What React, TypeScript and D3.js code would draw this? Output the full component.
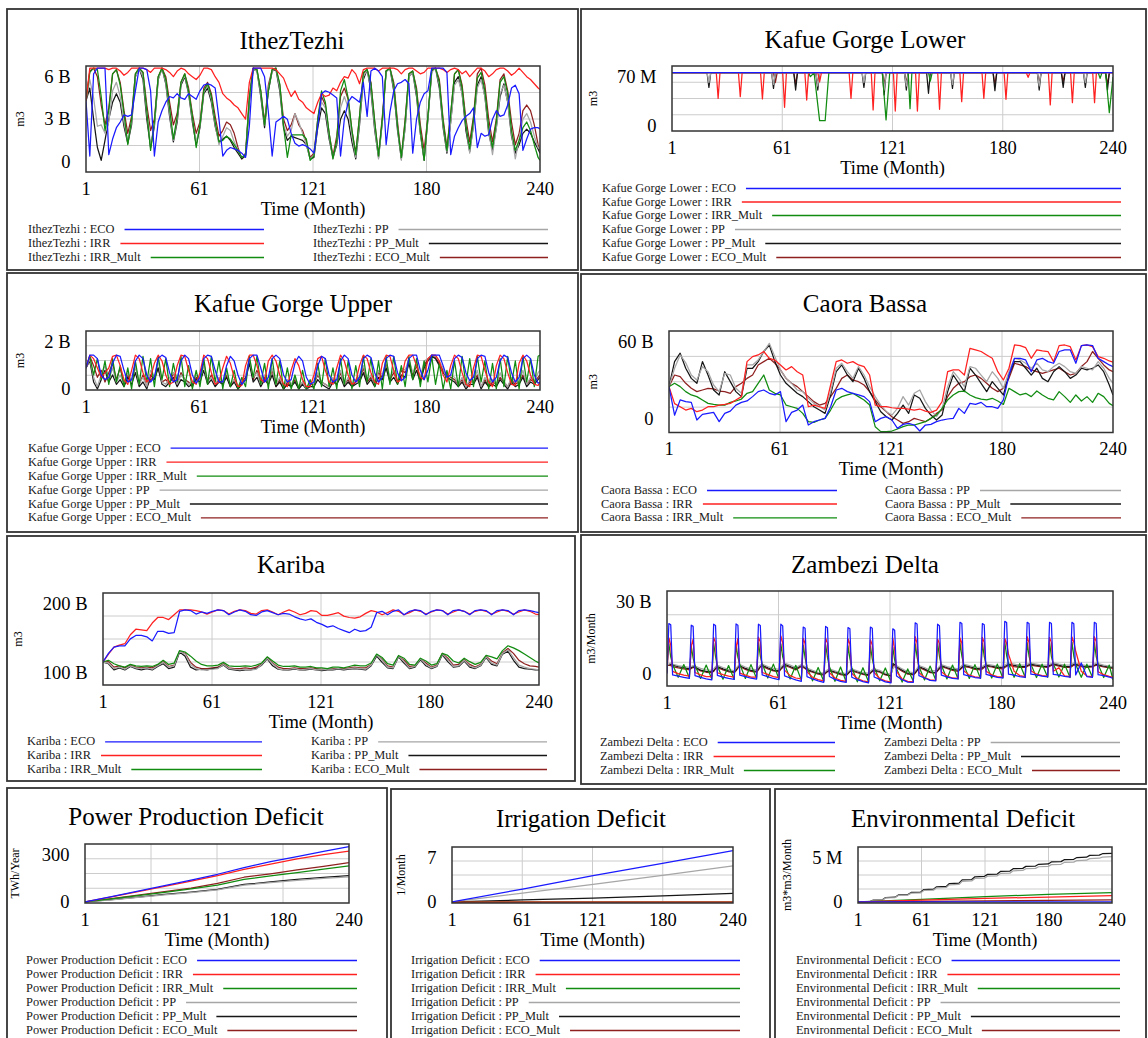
import React, { useEffect, useRef } from "react";
import * as d3 from "d3";

const W = 1148;
const H = 1038;
const FONT = "'Liberation Serif', 'Times New Roman', Times, serif";

const SERIES_KEYS = ["ECO", "IRR", "IRR_Mult", "PP", "PP_Mult", "ECO_Mult"];
const SERIES_COLORS = ["#1a1aff", "#ff2020", "#118c11", "#a6a6a6", "#161616", "#8f2020"];

const X_TICK_VALUES = [1, 60.75, 120.5, 180.25, 240];
const X_TICK_LABELS = ["1", "61", "121", "180", "240"];

// sample months
const MONTHS_2 = [...d3.range(1, 240, 2), 240];
const MONTHS_3 = [...d3.range(1, 240, 3), 240];
const MONTHS_Z = [...d3.range(20).flatMap((k) => [1, 2, 3, 4, 7, 10].map((o) => 12 * k + o)), 240];
const MONTHS_DEF = [1, 25, 49, 73, 97, 121, 145, 169, 193, 217, 240];
const MONTHS_LIN = [1, 61, 121, 180, 240];
const MONTHS_STEP = [1, 12, 15, 24, 27, 36, 39, 48, 51, 60, 63, 72, 75, 84, 87, 96, 99, 108, 111, 120, 123, 132, 135, 144, 147, 156, 159, 168, 171, 180, 183, 192, 195, 204, 207, 216, 219, 228, 231, 240];

// ---------- IthezTezhi (B m3), months 1,3,...,239,240
const ITH_ECO = [4.3,0.4,6.2,6.6,6.6,6.6, 0.5,1.6,2.4,2.8,3.3,3.2, 3.3,5.0,6.6,6.6,6.5,5.0, 0.4,2.8,3.6,4.2,4.6,4.5, 4.8,4.5,4.4,4.8,4.6,4.4, 5.0,5.4,5.5,5.4,5.2,3.0, 0.4,0.8,1.0,0.9,0.8,0.6, 0.3,2.5,6.6,6.6,6.6,6.0, 3.5,0.4,2.8,3.0,3.2,3.0, 2.0,1.3,1.1,1.2,1.1,0.9, 0.6,2.5,4.8,5.0,4.9,4.7, 4.5,0.4,3.0,4.2,4.6,4.4, 4.2,5.6,3.2,6.4,6.6,6.4, 6.0,1.2,3.5,5.0,5.5,5.6, 5.8,5.5,0.6,3.0,4.2,4.8, 5.0,6.6,6.6,6.6,6.6,6.3, 0.5,1.8,2.4,2.9,3.2,3.4, 3.8,1.0,2.0,1.8,1.9,3.0, 3.6,3.2,3.3,4.0,5.2,5.4, 4.8,0.8,1.6,2.3,2.4,2.4, 2.3];
const ITH_IRR = [4.3,6.6,6.6,6.6,6.6,6.6, 6.5,6.6,6.6,6.4,6.1,6.3, 6.6,6.6,6.6,6.6,6.5,6.3, 6.6,6.6,6.6,6.5,6.3,6.0, 6.4,6.6,6.5,6.2,6.0,5.8, 6.1,6.6,6.6,6.5,6.0,5.6, 4.8,4.5,4.3,4.0,3.8,3.4, 3.0,5.6,6.6,6.6,6.6,6.6, 6.6,6.6,6.5,6.2,5.9,5.2, 4.6,5.0,4.4,4.2,3.8,3.6, 3.4,4.2,4.8,4.6,4.7,5.2, 5.0,5.6,6.0,5.9,6.5,6.2, 5.5,6.5,6.6,6.6,6.6,6.4, 6.6,6.6,6.6,6.6,6.5,6.2, 6.5,6.6,6.6,6.4,6.2,6.3, 6.6,6.6,6.6,6.6,6.5,6.3, 6.5,6.6,6.5,6.2,6.4,6.0, 6.3,6.6,6.6,6.4,6.0,6.2, 6.5,6.6,6.6,6.4,6.1,6.3, 6.6,6.3,6.0,5.8,5.5,5.2, 5.1];
const ITH_IRRM = [4.3,6.3,6.6,6.5,4.6,2.2, 3.6,6.2,6.5,5.4,3.4,1.2, 3.0,6.2,6.6,6.3,3.6,0.8, 2.8,6.0,6.6,5.8,3.8,1.6, 3.2,5.6,6.2,5.0,3.2,1.0, 2.6,5.0,5.5,4.6,2.8,1.4, 1.5,1.8,1.6,1.2,0.8,0.3, 0.5,4.5,6.6,6.5,5.0,2.6, 5.0,6.5,6.6,5.5,2.5,0.3, 1.9,1.9,1.9,1.9,1.6,0.1, 0.4,3.0,5.0,4.2,2.0,0.2, 1.5,5.0,5.8,4.5,2.2,0.5, 3.2,6.3,6.5,5.5,2.8,0.4, 3.0,6.4,6.6,5.4,2.5,0.3, 2.8,6.2,6.4,5.0,2.2,0.1, 3.2,6.5,6.6,5.6,2.8,0.8, 3.4,6.2,6.5,5.2,2.6,0.9, 3.0,5.9,6.3,5.0,2.4,1.0, 2.8,5.6,6.0,4.8,2.2,0.8, 1.5,2.4,2.8,2.2,1.2,0.3, 0.1];
const ITH_PP = [4.3,5.8,4.5,2.5,2.6,2.0, 2.8,5.0,5.6,4.6,2.8,1.4, 2.8,6.0,6.6,6.0,3.4,1.2, 2.6,5.8,6.6,5.6,3.4,1.5, 3.0,5.5,6.1,4.9,3.0,1.4, 2.5,4.9,5.4,4.4,2.6,1.2, 1.8,2.4,2.2,1.4,0.8,0.3, 0.5,4.3,6.5,6.4,4.8,2.6, 5.2,6.4,6.6,5.2,2.6,1.8, 2.2,3.4,2.8,2.0,1.2,0.2, 0.4,2.8,4.2,3.8,1.8,0.2, 1.4,3.8,4.6,3.8,1.8,0.3, 2.8,6.0,6.5,5.2,2.4,0.2, 2.8,6.3,6.6,5.2,2.4,0.1, 2.4,6.0,6.3,4.8,2.0,0.2, 3.0,6.3,6.6,5.4,2.6,0.7, 2.8,5.4,5.8,4.8,2.6,0.6, 2.6,5.2,5.8,4.6,2.2,0.5, 2.4,4.8,5.4,4.2,2.0,0.2, 1.6,3.0,3.4,2.8,1.8,1.0, 0.9];
const ITH_PPM = [4.3,5.2,3.0,1.0,0.1,1.5, 3.0,4.2,4.8,4.2,2.5,1.3, 2.6,6.0,6.6,5.8,3.0,1.0, 2.5,5.8,6.6,5.5,3.2,1.4, 2.8,5.4,6.0,4.8,2.8,1.2, 2.4,4.8,5.2,4.2,2.5,1.4, 1.6,1.8,1.5,1.0,0.6,0.2, 0.4,4.2,6.5,6.4,4.6,2.4, 5.0,6.4,6.5,5.0,2.4,1.5, 1.8,1.7,1.6,1.5,1.2,0.2, 0.3,2.4,3.8,3.4,1.6,0.3, 1.2,3.0,3.6,3.0,1.4,0.2, 2.6,5.8,6.5,5.0,2.2,0.3, 2.8,6.4,6.6,5.0,2.2,0.2, 2.4,6.0,6.3,4.6,2.0,0.1, 3.0,6.4,6.6,5.2,2.4,0.6, 2.8,5.6,6.0,4.8,2.2,0.7, 2.6,5.4,6.0,4.6,2.0,0.8, 2.4,4.6,5.5,4.2,1.8,0.6, 1.2,2.0,2.3,2.0,1.4,0.9, 0.6];
const ITH_ECOM = [4.3,6.4,6.6,6.0,4.0,2.6, 3.8,6.2,6.5,5.6,3.6,2.0, 3.2,6.2,6.6,6.3,4.0,2.2, 3.0,6.0,6.6,6.0,4.2,2.6, 3.4,5.6,6.2,5.2,3.4,2.0, 2.8,5.2,5.6,4.8,3.2,1.8, 2.2,2.8,2.6,2.0,1.0,0.2, 0.6,4.6,6.6,6.5,5.0,2.8, 5.4,6.5,6.6,5.4,3.0,2.2, 2.6,3.4,2.6,2.2,1.4,0.3, 0.6,3.0,4.6,4.0,2.0,0.4, 1.8,4.6,5.2,4.4,2.2,0.6, 3.2,6.2,6.5,5.6,2.8,0.4, 3.2,6.4,6.6,5.6,2.8,0.3, 3.0,6.2,6.4,5.2,2.6,0.8, 3.2,6.5,6.6,5.8,3.0,1.0, 3.4,6.2,6.5,5.4,3.0,1.4, 3.2,6.2,6.6,5.4,3.0,1.4, 3.0,5.8,6.2,5.0,2.8,1.2, 2.0,3.6,4.0,3.6,2.6,1.2, 0.8];

// ---------- Kafue Gorge Lower (M m3), [month, value] points
const KGL_ECO = [[1, 76.1], [240, 76.1]];
const KGL_IRR = [[1,76.1],[25,76.1],[26,39.5],[27,76.1],[37,76.1],[38,41.9],[39,76.1],[49,76.1],[50,38.6],[51,76.1],[61,76.1],[62,26.7],[63,76.1],[73,76.1],[74,37.1],[75,76.1],[80,76.1],[81,63],[82,76.1],[97,76.1],[98,39.5],[99,76.1],[109,76.1],[110,22.9],[111,76.1],[121,76.1],[122,21.4],[123,76.1],[133,76.1],[134,21.4],[135,76.1],[145,76.1],[146,23.8],[147,76.1],[157,76.1],[158,34.8],[159,76.1],[169,76.1],[170,39.5],[171,76.1],[181,76.1],[182,38.1],[183,76.1],[193,76.1],[194,69.5],[195,76.1],[205,76.1],[206,30],[207,76.1],[217,76.1],[218,33.3],[219,76.1],[229,76.1],[230,33.3],[231,76.1],[240,76.1]];
const KGL_IRRM = [[1,76.1],[75,76.1],[76,70.5],[78,76.1],[81,7.6],[84,7.6],[86,76.1],[115,76.1],[117,8.6],[119,76.1],[129,76.1],[130,24.8],[131,76.1],[140,76.1],[141,64],[142,76.1],[232,76.1],[233,68],[234,76.1],[236,76.1],[238,19],[240,70]];
const KGL_PP = [[1,76.1],[20,76.1],[21,61.9],[22,76.1],[55,76.1],[56,59.5],[57,76.1],[79,76.1],[80,57.1],[81,76.1],[104,76.1],[105,61.9],[106,76.1],[115,76.1],[116,51.4],[117,76.1],[127,76.1],[128,57.1],[129,76.1],[152,76.1],[153,59.5],[154,76.1],[199,76.1],[200,57.1],[201,76.1],[224,76.1],[225,61.9],[226,76.1],[240,76.1]];
const KGL_PPM = [[1,76.1],[20,76.1],[21,55.2],[22,76.1],[55,76.1],[56,53.8],[57,76.1],[67,76.1],[68,51.4],[69,76.1],[79,76.1],[80,51.4],[81,76.1],[104,76.1],[105,55.2],[106,76.1],[115,76.1],[116,44.3],[117,76.1],[127,76.1],[128,51.4],[129,76.1],[139,76.1],[140,46.7],[141,76.1],[152,76.1],[153,53.8],[154,76.1],[175,76.1],[176,50.5],[177,76.1],[199,76.1],[200,51.4],[201,76.1],[212,76.1],[213,55.2],[214,76.1],[224,76.1],[225,55.2],[226,76.1],[236,76.1],[237,51.4],[238,76.1],[240,76.1]];
const KGL_ECOM = [[1,76.1],[56,76.1],[57,61.9],[58,76.1],[67,76.1],[68,59.5],[69,76.1],[79,76.1],[80,57.1],[81,76.1],[115,76.1],[116,59.5],[117,76.1],[127,76.1],[128,61.9],[129,76.1],[175,76.1],[176,59.5],[177,76.1],[199,76.1],[200,59.5],[201,76.1],[212,76.1],[213,63.3],[214,76.1],[236,76.1],[237,59.5],[238,76.1],[240,76.1]];

// ---------- Kafue Gorge Upper (B m3), months 1,3,...,239,240
const KGU_ECO = [0.9,1.45,1.45,1.3,0.6,0.4, 0.5,1.1,1.45,1.4,0.8,0.3, 0.4,1.2,1.45,1.3,0.6,0.3, 0.5,1.3,1.45,1.35,0.7,0.3, 0.4,1.2,1.45,1.3,0.6,0.25, 0.5,1.3,1.45,1.4,0.8,0.3, 0.3,1.0,1.4,1.2,0.6,0.2, 0.4,1.3,1.45,1.45,0.9,0.3, 0.5,1.3,1.45,1.3,0.6,0.3, 0.4,1.1,1.4,1.2,0.5,0.2, 0.3,1.0,1.4,1.3,0.6,0.3, 0.4,1.2,1.45,1.3,0.6,0.3, 0.5,1.3,1.45,1.35,0.7,0.3, 0.5,1.3,1.45,1.4,0.7,0.35, 0.5,1.3,1.45,1.45,0.8,0.4, 0.8,1.45,1.45,1.45,1.0,0.5, 0.6,1.3,1.45,1.35,0.7,0.35, 0.5,1.3,1.45,1.4,0.7,0.3, 0.5,1.2,1.45,1.35,0.7,0.3, 0.5,1.3,1.45,1.3,0.6,0.25, 0.3];
const KGU_IRR = [0.9,1.45,1.3,0.9,0.5,0.7, 0.9,1.4,1.45,1.0,0.4,0.2, 0.8,1.45,1.3,0.7,0.3,0.5, 1.1,1.45,1.2,0.6,0.2,0.3, 1.0,1.45,1.4,0.8,0.3,0.2, 0.7,1.45,1.3,0.7,0.2,0.3, 0.9,1.4,1.1,0.5,0.1,0.15, 1.0,1.45,1.45,1.0,0.4,0.3, 1.2,1.45,1.2,0.6,0.2,0.1, 0.8,1.3,1.0,0.4,0.1,0.1, 0.6,1.3,1.4,0.8,0.3,0.2, 0.9,1.45,1.2,0.6,0.2,0.3, 1.0,1.45,1.3,0.7,0.3,0.2, 1.1,1.45,1.4,0.8,0.3,0.4, 1.2,1.45,1.45,1.0,0.5,0.4, 1.3,1.45,1.45,1.2,0.6,0.3, 1.0,1.45,1.3,0.7,0.2,0.1, 0.9,1.45,1.4,0.8,0.3,0.1, 1.0,1.45,1.3,0.7,0.2,0.15, 1.1,1.45,1.2,0.6,0.2,0.15, 0.3];
const KGU_IRRM = [0.9,1.4,0.6,1.3,0.4,1.2, 0.2,1.3,0.3,1.0,0.1,0.9, 0.0,1.2,0.2,1.4,0.3,1.3, 0.1,1.4,0.4,1.3,0.1,1.1, 0.3,1.4,0.1,1.0,0.0,0.8, 0.1,1.3,0.2,1.4,0.3,1.2, 0.0,0.9,0.1,0.8,0.0,0.5, 0.1,1.4,0.5,1.4,0.2,1.1, 0.0,1.3,0.2,1.2,0.0,0.9, 0.0,0.6,0.0,0.8,0.0,0.4, 0.0,1.1,0.1,1.3,0.1,0.9, 0.0,1.3,0.2,1.2,0.0,1.0, 0.1,1.4,0.3,1.3,0.1,1.2, 0.0,1.4,0.2,1.4,0.2,1.0, 0.1,1.4,0.4,1.3,0.1,1.2, 0.3,1.4,0.2,1.1,0.0,0.8, 0.0,1.2,0.1,1.4,0.2,1.3, 0.1,1.4,0.3,1.2,0.0,1.1, 0.0,1.3,0.1,1.4,0.2,1.2, 0.0,1.4,0.3,1.3,0.1,1.4, 1.45];
const KGU_PP = [0.9,1.3,0.5,0.1,0.6,1.0, 0.4,0.9,0.3,0.6,0.2,0.7, 0.3,1.0,0.2,0.5,0.1,0.8, 0.5,1.2,0.3,0.2,0.5,0.7, 0.2,0.6,0.4,0.2,0.3,0.6, 0.4,1.0,0.3,0.5,0.2,0.5, 0.3,0.7,0.2,0.4,0.1,0.4, 0.6,1.3,0.5,0.7,0.2,0.6, 0.3,0.9,0.2,0.5,0.1,0.4, 0.2,0.5,0.1,0.3,0.0,0.3, 0.2,0.7,0.3,0.2,0.1,0.5, 0.3,0.8,0.2,0.5,0.2,0.4, 0.5,1.0,0.4,0.6,0.2,0.8, 0.6,1.2,0.5,0.8,0.3,0.9, 0.8,1.3,0.7,1.1,0.5,1.2, 1.3,1.45,1.4,1.2,0.9,0.4, 0.6,0.5,0.2,0.5,0.1,0.4, 0.3,0.8,0.1,0.5,0.2,0.4, 0.2,0.7,0.3,0.1,0.5,0.3, 0.3,0.8,0.2,0.5,0.3,0.7, 0.8];
const KGU_PPM = [0.9,1.2,0.3,0.0,0.4,0.8, 0.3,0.6,0.2,0.4,0.1,0.5, 0.2,0.7,0.1,0.3,0.0,0.6, 0.4,0.9,0.2,0.1,0.3,0.5, 0.1,0.4,0.3,0.1,0.2,0.4, 0.3,0.8,0.2,0.4,0.1,0.3, 0.2,0.5,0.1,0.3,0.0,0.2, 0.4,1.1,0.3,0.5,0.1,0.4, 0.2,0.6,0.1,0.3,0.0,0.2, 0.1,0.3,0.0,0.2,0.0,0.1, 0.1,0.4,0.2,0.1,0.0,0.3, 0.2,0.5,0.1,0.3,0.1,0.2, 0.3,0.7,0.2,0.4,0.1,0.5, 0.4,0.9,0.3,0.5,0.2,0.6, 0.5,1.1,0.4,0.8,0.3,0.9, 1.2,1.4,1.3,1.0,0.7,0.5, 0.4,0.3,0.1,0.3,0.0,0.2, 0.2,0.5,0.0,0.3,0.1,0.2, 0.1,0.4,0.2,0.0,0.3,0.1, 0.2,0.5,0.1,0.3,0.2,0.4, 0.5];
const KGU_ECOM = [0.9,1.4,1.0,0.5,0.8,0.3, 0.7,1.1,0.4,0.9,0.2,0.6, 0.3,1.0,0.2,0.6,0.1,0.4, 0.5,0.9,0.3,0.4,0.2,0.7, 0.2,0.7,0.4,0.3,0.1,0.5, 0.4,1.1,0.3,0.6,0.2,0.4, 0.2,0.6,0.1,0.4,0.0,0.3, 0.5,1.2,0.4,0.8,0.2,0.5, 0.3,0.8,0.1,0.4,0.0,0.3, 0.1,0.4,0.0,0.3,0.0,0.2, 0.2,0.6,0.3,0.2,0.1,0.4, 0.2,0.7,0.2,0.4,0.1,0.3, 0.4,0.9,0.3,0.5,0.2,0.7, 0.5,1.1,0.4,0.7,0.3,0.8, 0.7,1.2,0.6,1.0,0.4,1.0, 1.3,1.45,1.35,1.1,0.8,0.6, 0.5,0.4,0.2,0.4,0.1,0.3, 0.3,0.6,0.1,0.4,0.1,0.3, 0.2,0.5,0.3,0.1,0.4,0.2, 0.3,0.6,0.2,0.4,0.3,0.5, 0.6];

// ---------- Caora Bassa (B m3), months 1,4,...,238,240
const CB_ECO = [25.3,3.0,14.9,13.6,13.0,-0.8,3.6,4.4,5.2,-2.1, 4.4,6.2,10.9,13.0,14.1,17.5,21.4,22.7,20.1,18.8, 21.4,-2.1,5.2,7.0,10.9,-4.7,-2.1,-0.8,0.5,9.6, 22.7,24.0,21.4,20.1,18.8,17.5,13.6,-2.1,0.5,1.8, -0.8,-7.3,-4.2,-3.4,-4.7,-9.4,-4.7,-4.2,-2.1,-0.8, 0.0,0.5,8.3,4.4,12.2,11.4,13.0,9.6,9.6,8.3, 14.9,34.4,47.5,47.5,46.2,37.0,46.2,47.5,44.9,43.6, 52.8,54.0,54.0,43.6,57.4,57.9,57.4,47.5,44.9,42.3, 41.0];
const CB_IRR = [25.3,12.0,9.6,7.0,8.3,5.7,7.0,9.6,9.6,10.9, 11.4,12.2,14.9,17.5,44.9,48.8,50.1,52.8,47.5,46.0, 42.3,38.4,41.0,37.0,34.4,9.6,10.9,9.6,8.3,26.6, 44.9,46.2,43.6,44.9,42.3,41.0,34.4,10.9,9.6,9.6, 8.8,8.3,8.3,7.8,7.0,7.8,6.2,5.2,7.0,13.6, 37.0,38.4,38.4,34.4,55.3,54.0,52.8,50.1,47.5,37.0, 30.5,39.7,57.9,57.4,55.8,47.5,54.0,53.3,52.8,44.9, 57.4,57.9,56.6,46.2,57.4,57.9,56.6,48.8,47.5,45.4, 44.4];
const CB_IRRM = [25.3,27.9,25.3,21.4,18.8,17.5,14.9,12.2,11.4,10.9, 10.9,13.0,14.1,15.6,20.1,21.4,27.9,34.4,22.7,20.1, 18.8,10.9,9.6,8.3,4.4,-2.1,-2.6,-0.8,0.5,7.0, 14.9,17.5,18.8,20.1,17.5,14.9,10.9,-6.0,-9.9,-9.9, -9.4,-7.8,-6.0,-4.7,-4.7,-3.4,-2.1,0.5,3.1,8.3, 14.9,18.8,21.4,21.9,18.8,16.7,15.6,14.9,16.2,14.1, 11.4,24.0,21.4,18.8,20.1,17.5,21.9,18.8,16.2,14.9, 21.4,17.5,13.0,18.8,14.1,17.5,13.0,20.1,17.5,12.2, 10.4];
const CB_PP = [25.3,39.7,50.1,44.0,34.4,30.5,41.0,37.0,26.6,21.4, 35.7,34.4,24.0,20.1,42.3,42.3,46.2,52.8,59.2,48.8, 38.4,31.8,27.9,22.7,21.4,16.2,12.2,9.6,7.0,21.4, 39.7,43.6,37.0,31.8,41.0,34.4,25.3,17.5,10.9,5.7, 3.1,8.3,17.5,10.9,20.1,22.7,13.6,7.0,1.8,8.3, 25.3,37.0,31.8,25.3,41.0,39.7,34.4,29.2,37.0,31.8, 24.0,37.0,47.5,46.2,43.6,39.7,43.6,38.4,37.0,41.0, 43.6,41.0,37.0,35.7,41.0,39.7,38.4,44.9,39.7,31.8, 27.9];
const CB_PPM = [25.3,44.9,51.5,39.7,31.8,27.9,44.9,34.4,22.7,18.8, 37.0,29.2,21.4,17.5,39.7,39.7,44.9,52.8,57.9,44.9, 34.4,27.9,24.0,20.1,17.5,13.6,9.6,7.0,4.4,18.8, 37.0,42.3,34.4,29.2,39.7,31.8,21.4,13.6,5.7,1.8, -0.8,4.4,10.9,4.4,18.8,16.2,8.3,3.1,-0.8,3.1, 21.4,34.4,27.9,21.4,39.7,34.4,27.9,21.4,29.2,24.0, 18.8,34.4,44.9,44.9,39.7,34.4,39.7,31.8,29.2,37.0, 41.0,37.0,31.8,34.4,39.7,38.4,39.7,42.3,37.0,26.6, 18.8];
const CB_ECOM = [25.3,34.4,33.1,27.9,24.0,21.4,22.7,24.0,23.5,21.9, 21.4,20.1,25.3,27.9,31.8,34.4,42.3,44.9,47.5,43.6, 38.4,31.8,27.9,25.3,21.4,17.5,13.6,10.9,12.2,17.5, 24.0,31.8,34.4,30.5,29.2,26.6,21.4,14.9,9.6,5.7, 1.8,-0.8,-3.4,-2.1,0.5,-0.8,-2.1,0.5,4.4,7.0, 17.5,24.0,27.9,29.2,33.1,34.4,31.8,27.9,24.0,21.4, 24.0,31.8,43.6,42.3,41.0,38.4,37.0,35.7,37.0,38.4, 39.7,37.0,34.4,35.7,41.0,44.9,52.8,47.5,42.3,38.4, 37.0];

// ---------- Kariba (B m3), months 1,4,...,238,240
const KA_ECO = [115.5,128,137,139,139,149,154,154,152,146, 160,160,157,158,189,191,190,185,188,186, 189,191,190,184,188,191,189,184,183,188, 190,187,184,186,185,181,178,176,178,173, 170,166,168,164,161,158,163,160,161,166, 187,189,184,189,191,184,189,191,190,184, 189,191,190,184,190,191,189,184,190,191, 190,184,190,191,190,184,190,191,190,188, 187];
const KA_IRR = [115.5,127,137,140,142,155,163,162,161,172, 180,180,177,184,191,191,191,190,188,185, 188,191,190,185,189,191,190,186,185,190, 191,188,184,188,191,188,184,186,190,189, 183,183,185,187,182,180,179,181,186,190, 188,184,187,191,189,184,187,191,189,185, 188,191,190,185,188,191,189,185,189,191, 189,185,188,191,189,185,188,191,189,185, 184];
const KA_IRRM = [115.5,118,113,110,108,112,110,109,110,109, 112,118,112,114,132,130,124,117,112,110, 110,111,115,110,109,109,110,109,111,114, 123,117,111,109,109,110,108,108,109,107, 107,106,108,108,107,109,111,110,110,114, 127,122,113,111,125,121,112,111,121,117, 111,113,128,125,117,114,121,116,112,115, 125,123,120,132,139,136,132,127,122,117, 114];
const KA_PP = [115.5,114,106,108,105,110,107,106,107,105, 110,115,108,110,131,127,112,106,104,104, 105,106,112,106,105,104,105,104,105,112, 121,113,106,104,105,106,104,105,106,104, 104,105,105,106,105,106,107,106,105,111, 126,118,108,107,124,116,107,109,120,112, 107,110,127,119,109,110,118,110,107,111, 123,114,111,128,133,122,111,108,106,105, 104];
const KA_PPM = [115.5,113,104,107,104,109,106,104,106,104, 109,113,106,108,130,124,108,104,105,104, 106,107,111,105,104,103,104,104,106,111, 120,110,105,104,104,105,104,104,105,104, 103,104,104,105,104,105,106,105,104,110, 124,115,107,106,123,114,106,108,119,110, 106,109,126,116,108,109,117,108,106,110, 122,112,110,127,131,118,108,106,105,104, 104];
const KA_ECOM = [115.5,116,108,110,107,111,108,107,108,107, 111,116,109,111,131,128,115,108,106,106, 107,108,113,107,106,106,107,106,108,113, 122,114,108,106,106,107,106,106,107,106, 105,105,106,106,106,107,108,107,107,112, 126,119,110,108,124,118,109,110,120,114, 108,111,128,121,111,112,119,112,108,112, 124,117,113,129,135,128,118,113,110,109, 108];

// ---------- Zambezi Delta (B m3/Month), months 12k+{1,2,3,4,7,10}, 240
const ZD_ECO = [0.0,21.0,20.5,-0.5,-1.0,-1.5, -2.0,20.3,19.8,-0.8,-1.5,-2.2, -2.6,20.7,20.2,-0.7,-1.4,-2.0, -2.4,20.8,20.3,-0.6,-1.2,-1.9, -2.3,20.7,20.2,-0.5,-1.2,-2.0, -2.5,20.7,20.0,-0.9,-1.8,-2.6, -3.2,19.5,19.0,-1.2,-2.2,-3.0, -3.6,19.8,19.2,-1.2,-2.4,-3.2, -3.6,19.3,18.8,-1.5,-2.5,-3.3, -3.8,19.5,19.0,-1.4,-2.4,-3.4, -3.8,18.8,18.2,-1.0,-2.5,-3.5, -3.6,21.3,20.8,-0.8,-1.8,-2.8, -3.0,20.7,20.1,-0.6,-1.3,-2.0, -2.2,21.5,21.0,-0.4,-1.0,-1.6, -1.9,21.0,20.5,-0.3,-0.9,-1.5, -1.8,21.9,21.4,-0.2,-0.6,-1.2, -1.5,21.5,21.0,-0.2,-0.5,-1.0, -1.3,21.5,21.0,-0.3,-0.6,-1.1, -1.4,21.5,20.9,-0.5,4.5,-1.2, -1.5,21.5,21.0,-0.4,-0.8,-1.4, -2.0];
const ZD_IRR = [0.5,15.0,12.0,1.0,0.0,-0.6, -1.0,11.5,14.5,0.5,-0.5,-1.2, -1.2,15.2,13.0,0.4,-0.4,-1.0, -1.4,11.0,14.8,0.2,-0.6,-1.4, -1.4,15.3,13.2,0.5,-0.3,-1.2, -1.6,15.8,13.0,1.5,-0.8,-1.8, -2.2,14.8,12.5,0.8,-1.5,-2.5, -3.0,15.0,12.8,0.5,-1.8,-2.8, -3.2,14.6,12.4,0.2,-2.0,-3.0, -3.4,14.2,12.0,0.5,-2.0,-3.0, -3.5,15.0,10.0,1.0,-2.2,-3.2, -3.4,15.5,12.8,0.5,-1.6,-2.6, -2.8,14.5,12.5,0.8,-1.0,-1.8, -2.0,15.0,12.8,1.2,-0.6,-1.3, -1.6,15.2,13.0,1.0,-0.5,-1.2, -1.4,14.8,12.6,8.2,1.0,-0.8, -1.2,15.5,13.0,1.2,-0.2,-0.8, -1.0,15.2,13.0,1.0,2.5,-0.9, -1.2,15.4,13.2,9.5,1.0,-1.0, -1.2,15.5,13.5,0.8,-0.4,-1.1, -1.5];
const ZD_IRRM = [3.5,12.5,7.0,3.8,-1.5,3.8, -1.8,11.5,6.5,3.5,-2.0,3.6, -2.2,12.8,7.2,3.2,-2.3,3.4, -2.4,12.0,6.8,4.0,-2.0,3.8, -2.0,13.0,7.4,4.2,-1.8,4.0, -2.2,12.5,7.0,4.0,-2.2,3.5, -2.8,12.0,6.6,2.8,-3.0,2.6, -3.2,12.2,6.8,3.0,-3.2,2.8, -3.4,11.6,6.4,2.6,-3.4,2.5, -3.4,11.5,6.2,2.8,-3.0,2.4, -3.5,11.0,5.8,2.2,-3.5,2.0, -3.2,12.5,7.0,3.0,-2.6,3.2, -2.6,12.8,7.2,3.6,-2.2,3.6, -2.2,13.0,7.4,3.8,-2.0,3.8, -2.0,12.8,7.2,4.0,-1.8,4.0, -1.8,13.2,7.6,4.2,-1.5,4.2, -1.6,13.0,7.4,4.0,-1.6,4.0, -1.5,13.0,7.2,4.2,-1.4,4.0, -1.6,13.2,7.4,3.8,-1.5,4.0, -1.5,13.0,7.2,4.0,-1.6,3.6, -2.6];
const ZD_PP = [3.5,4.0,4.4,4.0,3.4,3.0, 2.6,3.0,3.4,3.2,2.2,1.6, 1.4,2.0,3.0,3.5,2.6,1.8, 1.2,2.2,3.2,3.8,2.8,2.0, 1.6,2.6,3.6,4.0,3.0,2.2, 1.8,2.8,3.6,4.4,3.6,2.6, 3.8,3.4,3.0,2.4,1.4,0.6, 0.2,1.0,1.6,2.0,1.2,0.4, 0.0,0.8,1.5,2.0,1.2,0.4, 0.2,1.0,1.8,2.0,1.4,0.2, -0.2,2.0,3.0,3.4,2.0,0.8, 0.4,1.2,2.2,3.4,2.6,1.4, 1.2,2.2,3.0,3.8,3.0,2.4, 2.0,2.6,3.4,4.0,3.4,2.8, 2.6,3.0,3.6,4.0,3.6,3.2, 3.0,3.6,4.0,4.4,4.0,3.6, 3.6,4.0,4.2,4.4,4.0,3.6, 3.6,4.0,4.2,4.6,4.0,3.6, 3.6,4.0,4.4,4.4,3.8,3.4, 3.6,4.0,4.4,4.2,3.6,3.2, 3.0];
const ZD_PPM = [3.5,3.8,4.0,3.6,3.0,2.5, 2.0,2.5,3.0,2.8,1.5,1.0, 0.8,1.2,2.4,3.0,2.0,1.2, 0.8,1.5,2.8,3.4,2.2,1.4, 1.0,2.0,3.2,3.6,2.5,1.5, 1.2,2.2,3.0,4.0,3.0,2.0, 3.5,3.0,2.6,1.8,1.0,0.2, -0.2,0.5,1.0,1.5,0.8,0.0, -0.5,0.2,1.0,1.6,0.8,0.0, -0.4,0.5,1.2,1.5,1.0,-0.2, -0.8,4.2,3.8,3.0,1.5,0.2, -0.2,0.5,1.5,3.0,2.0,0.8, 0.5,1.5,2.5,3.4,2.6,1.8, 1.5,2.0,2.8,3.5,3.0,2.2, 2.0,2.5,3.0,3.6,3.2,2.6, 2.5,3.0,3.5,4.0,3.5,3.0, 3.0,3.4,3.8,4.0,3.6,3.2, 3.0,3.5,3.8,4.2,3.6,3.0, 3.0,3.5,4.0,4.0,3.4,3.0, 3.2,3.6,4.0,3.8,3.2,2.8, 2.6];
const ZD_ECOM = [3.5,3.6,3.4,3.0,2.4,2.0, 1.6,2.2,2.6,2.4,1.2,0.6, 0.4,1.0,2.0,2.6,1.6,0.8, 0.5,1.2,2.4,3.0,1.8,1.0, 0.6,1.6,2.8,3.2,2.0,1.2, 0.8,1.8,2.6,3.5,2.6,1.6, 3.0,2.6,2.2,1.4,0.6,-0.2, -0.6,0.2,0.8,1.2,0.4,-0.4, -0.8,0.0,0.8,1.2,0.4,-0.3, -0.8,0.2,0.9,1.2,0.6,-0.5, -1.0,3.5,3.2,2.5,1.0,-0.2, -0.5,0.2,1.2,2.6,1.6,0.4, 0.2,1.2,2.0,3.0,2.2,1.4, 1.0,1.6,2.4,3.0,2.6,1.8, 1.6,2.0,2.6,3.2,2.8,2.2, 2.0,2.6,3.0,3.6,3.0,2.6, 2.6,3.0,3.4,3.6,3.2,2.8, 2.6,3.0,3.4,3.8,3.2,2.6, 2.6,3.0,3.6,3.6,3.0,2.6, 2.8,3.2,3.6,3.4,2.8,2.4, 2.2];

// ---------- Power Production Deficit (TWh/Year), MONTHS_DEF
const PD_ECO = [0, 35, 70, 104, 140, 177, 220, 257, 290, 323, 353];
const PD_IRR = [0, 33, 66, 99, 133, 168, 208, 242, 275, 302, 325];
const PD_IRRM = [0, 20, 41, 62, 84, 108, 145, 166, 188, 210, 230];
const PD_PP = [0, 14, 29, 45, 60, 78, 108, 123, 138, 150, 161];
const PD_PPM = [0, 15, 31, 48, 63, 81, 112, 128, 145, 157, 168];
const PD_ECOM = [0, 22, 44, 66, 88, 119, 158, 180, 205, 228, 251];

// ---------- Irrigation Deficit (1/Month), MONTHS_LIN
const ID_ECO = [0, 2.05, 4.15, 6.1, 8.1];
const ID_IRR = [0, 0, 0, 0, 0];
const ID_IRRM = [0, 0, 0, 0, 0];
const ID_PP = [0, 1.4, 2.8, 4.2, 5.7];
const ID_PPM = [0, 0.32, 0.62, 0.98, 1.37];
const ID_ECOM = [0, 0, 0, 0, 0];

// ---------- Environmental Deficit (M m3*m3/Month)
const ED_ECO = [0, 0, 0, 0, 0];
const ED_IRR = [0, 0.2, 0.4, 0.56, 0.71];
const ED_IRRM = [0, 0.3, 0.62, 0.85, 1.05];
const ED_PP = [0,0.02,0.18,0.22,0.46,0.5,0.74,0.78,1.0,1.04,1.3,1.34,1.6,1.64,1.94,1.98,2.34,2.38,2.66,2.7,2.92,2.96,3.22,3.26,3.52,3.56,3.76,3.8,3.98,4.02,4.22,4.26,4.46,4.5,4.68,4.72,4.9,4.94,5.07,5.11];
const ED_PPM = [0,0.02,0.2,0.24,0.5,0.54,0.8,0.84,1.08,1.12,1.4,1.44,1.72,1.76,2.08,2.12,2.5,2.54,2.85,2.9,3.12,3.16,3.45,3.5,3.76,3.8,4.02,4.06,4.26,4.3,4.52,4.56,4.78,4.82,5.02,5.06,5.26,5.3,5.45,5.49];
const ED_ECOM = [0, 0.06, 0.12, 0.18, 0.23];

const ser = (m, v) => ({ m, v });
const pts = (p) => ({ p });

const ROWS6_BOTTOM = [960, 974, 988, 1002, 1016, 1030];

const PANELS = [
  {
    title: "IthezTezhi", name: "IthezTezhi", tx: 292, ty: 40,
    frame: [7, 9, 571, 261], plot: [86, 66, 540, 172],
    yDomain: [-0.727, 6.755], yTicks: [0, 3, 6], yTickLabels: ["0", "3 B", "6 B"],
    yTitle: "m3", yTitleX: 20,
    series: [ser(MONTHS_2, ITH_ECO), ser(MONTHS_2, ITH_IRR), ser(MONTHS_2, ITH_IRRM), ser(MONTHS_2, ITH_PP), ser(MONTHS_2, ITH_PPM), ser(MONTHS_2, ITH_ECOM)],
    legend: { rows: [229, 243, 257], cols: [{ x: 28, end: 264, keys: [0, 1, 2] }, { x: 313, end: 548, keys: [3, 4, 5] }] },
  },
  {
    title: "Kafue Gorge Lower", name: "Kafue Gorge Lower", tx: 865, ty: 39,
    frame: [581, 9, 565, 261], plot: [672, 66, 1113, 131],
    yDomain: [-7.14, 85.7], yTicks: [0, 70], yTickLabels: ["0", "70 M"],
    yTitle: "m3", yTitleX: 592.5,
    series: [pts(KGL_ECO), pts(KGL_IRR), pts(KGL_IRRM), pts(KGL_PP), pts(KGL_PPM), pts(KGL_ECOM)],
    legend: { rows: [188, 201.5, 215, 229, 243, 257], cols: [{ x: 602, end: 1121, keys: [0, 1, 2, 3, 4, 5] }] },
  },
  {
    title: "Kafue Gorge Upper", name: "Kafue Gorge Upper", tx: 293, ty: 303,
    frame: [7, 273, 571, 259], plot: [86, 331, 540, 390],
    yDomain: [-0.043, 2.484], yTicks: [0, 2], yTickLabels: ["0", "2 B"],
    yTitle: "m3", yTitleX: 20,
    series: [ser(MONTHS_2, KGU_ECO), ser(MONTHS_2, KGU_IRR), ser(MONTHS_2, KGU_IRRM), ser(MONTHS_2, KGU_PP), ser(MONTHS_2, KGU_PPM), ser(MONTHS_2, KGU_ECOM)],
    legend: { rows: [447.7, 461.7, 475.7, 489.7, 503.5, 517.3], cols: [{ x: 28, end: 548, keys: [0, 1, 2, 3, 4, 5] }] },
  },
  {
    title: "Caora Bassa", name: "Caora Bassa", tx: 865, ty: 303,
    frame: [581, 274, 565, 258], plot: [669, 331, 1113, 432.5],
    yDomain: [-10.56, 68.84], yTicks: [0, 60], yTickLabels: ["0", "60 B"],
    yTitle: "m3", yTitleX: 592.5,
    series: [ser(MONTHS_3, CB_ECO), ser(MONTHS_3, CB_IRR), ser(MONTHS_3, CB_IRRM), ser(MONTHS_3, CB_PP), ser(MONTHS_3, CB_PPM), ser(MONTHS_3, CB_ECOM)],
    legend: { rows: [490, 503.5, 517.3], cols: [{ x: 601, end: 837, keys: [0, 1, 2] }, { x: 885, end: 1121, keys: [3, 4, 5] }] },
  },
  {
    title: "Kariba", name: "Kariba", tx: 291, ty: 564.5,
    frame: [7, 536, 568, 245], plot: [103, 593, 539, 685],
    yDomain: [82.17, 215.5], yTicks: [100, 200], yTickLabels: ["100 B", "200 B"],
    yTitle: "m3", yTitleX: 18,
    series: [ser(MONTHS_3, KA_ECO), ser(MONTHS_3, KA_IRR), ser(MONTHS_3, KA_IRRM), ser(MONTHS_3, KA_PP), ser(MONTHS_3, KA_PPM), ser(MONTHS_3, KA_ECOM)],
    legend: { rows: [741.3, 755, 769], cols: [{ x: 27, end: 262, keys: [0, 1, 2] }, { x: 311, end: 547, keys: [3, 4, 5] }] },
  },
  {
    title: "Zambezi Delta", name: "Zambezi Delta", tx: 865, ty: 564,
    frame: [581, 535, 565, 249], plot: [667, 591, 1113, 686],
    yDomain: [-5.15, 34.6], yTicks: [0, 30], yTickLabels: ["0", "30 B"],
    yTitle: "m3/Month", yTitleX: 590.7,
    series: [ser(MONTHS_Z, ZD_ECO), ser(MONTHS_Z, ZD_IRR), ser(MONTHS_Z, ZD_IRRM), ser(MONTHS_Z, ZD_PP), ser(MONTHS_Z, ZD_PPM), ser(MONTHS_Z, ZD_ECOM)],
    legend: { rows: [742, 756, 770], cols: [{ x: 600, end: 835, keys: [0, 1, 2] }, { x: 884, end: 1120, keys: [3, 4, 5] }] },
  },
  {
    title: "Power Production Deficit", name: "Power Production Deficit", tx: 196, ty: 816,
    frame: [7, 788, 380, 262], plot: [85, 844, 349, 903],
    yDomain: [-6.4, 370.2], yTicks: [0, 300], yTickLabels: ["0", "300"],
    yTitle: "TWh/Year", yTitleX: 15,
    series: [ser(MONTHS_DEF, PD_ECO), ser(MONTHS_DEF, PD_IRR), ser(MONTHS_DEF, PD_IRRM), ser(MONTHS_DEF, PD_PP), ser(MONTHS_DEF, PD_PPM), ser(MONTHS_DEF, PD_ECOM)],
    legend: { rows: ROWS6_BOTTOM, cols: [{ x: 26, end: 357, keys: [0, 1, 2, 3, 4, 5] }] },
  },
  {
    title: "Irrigation Deficit", name: "Irrigation Deficit", tx: 581, ty: 818,
    frame: [391, 789, 379, 262], plot: [452, 847, 733, 903],
    yDomain: [-0.158, 8.69], yTicks: [0, 7], yTickLabels: ["0", "7"],
    yTitle: "1/Month", yTitleX: 401,
    series: [ser(MONTHS_LIN, ID_ECO), ser(MONTHS_LIN, ID_IRR), ser(MONTHS_LIN, ID_IRRM), ser(MONTHS_LIN, ID_PP), ser(MONTHS_LIN, ID_PPM), ser(MONTHS_LIN, ID_ECOM)],
    legend: { rows: ROWS6_BOTTOM, cols: [{ x: 411, end: 740, keys: [0, 1, 2, 3, 4, 5] }] },
  },
  {
    title: "Environmental Deficit", name: "Environmental Deficit", tx: 963, ty: 818,
    frame: [775, 789, 371, 262], plot: [858, 847, 1112, 903],
    yDomain: [-0.113, 6.21], yTicks: [0, 5], yTickLabels: ["0", "5 M"],
    yTitle: "m3*m3/Month", yTitleX: 787,
    series: [ser(MONTHS_LIN, ED_ECO), ser(MONTHS_LIN, ED_IRR), ser(MONTHS_LIN, ED_IRRM), ser(MONTHS_STEP, ED_PP), ser(MONTHS_STEP, ED_PPM), ser(MONTHS_LIN, ED_ECOM)],
    legend: { rows: ROWS6_BOTTOM, cols: [{ x: 796, end: 1120, keys: [0, 1, 2, 3, 4, 5] }] },
  },
];

export default function App() {
  const ref = useRef(null);

  useEffect(() => {
    const svg = d3.select(ref.current);
    svg.selectAll("*").remove();
    svg.append("rect").attr("width", W).attr("height", H).attr("fill", "#ffffff");
    const defs = svg.append("defs");

    PANELS.forEach((p, pi) => {
      const g = svg.append("g").attr("font-family", FONT).attr("fill", "#000");
      const [fx, fy, fw, fh] = p.frame;
      const [x0, y0, x1, y1] = p.plot;

      g.append("rect")
        .attr("x", fx).attr("y", fy).attr("width", fw).attr("height", fh)
        .attr("fill", "none").attr("stroke", "#333333").attr("stroke-width", 1.8);

      g.append("text")
        .attr("x", p.tx).attr("y", p.ty)
        .attr("text-anchor", "middle").attr("dominant-baseline", "central")
        .attr("font-size", 25).text(p.title);

      const x = d3.scaleLinear().domain([1, 240]).range([x0, x1]);
      const y = d3.scaleLinear().domain(p.yDomain).range([y1, y0]);

      // grid
      const gridY = [0.25, 0.5, 0.75].map((f) => p.yDomain[0] + (p.yDomain[1] - p.yDomain[0]) * f);
      g.append("g").selectAll("line").data(gridY).join("line")
        .attr("x1", x0).attr("x2", x1).attr("y1", (d) => y(d)).attr("y2", (d) => y(d))
        .attr("stroke", "#cccccc").attr("stroke-width", 1);
      g.append("g").selectAll("line").data(X_TICK_VALUES.slice(1, 4)).join("line")
        .attr("x1", (d) => x(d)).attr("x2", (d) => x(d)).attr("y1", y0).attr("y2", y1)
        .attr("stroke", "#cccccc").attr("stroke-width", 1);

      // clip
      const cid = "clip" + pi;
      defs.append("clipPath").attr("id", cid).append("rect")
        .attr("x", x0).attr("y", y0 - 1).attr("width", x1 - x0).attr("height", y1 - y0 + 1);

      const line = d3.line().x((d) => x(d[0])).y((d) => y(d[1]));
      const lg = g.append("g").attr("clip-path", `url(#${cid})`);
      for (let si = SERIES_KEYS.length - 1; si >= 0; si--) {
        const s = p.series[si];
        const data = s.p ? s.p : s.m.map((mm, i) => [mm, s.v[i]]);
        lg.append("path").attr("d", line(data)).attr("fill", "none")
          .attr("stroke", SERIES_COLORS[si]).attr("stroke-width", 1.25)
          .attr("stroke-linejoin", "round");
      }

      // plot frame
      g.append("rect").attr("x", x0).attr("y", y0).attr("width", x1 - x0).attr("height", y1 - y0)
        .attr("fill", "none").attr("stroke", "#333333").attr("stroke-width", 1.5);

      // y ticks
      g.append("g").selectAll("text").data(p.yTicks).join("text")
        .attr("x", x0 - 15.5).attr("y", (d) => y(d))
        .attr("text-anchor", "end").attr("dominant-baseline", "central")
        .attr("font-size", 18.5).text((d, i) => p.yTickLabels[i]);

      // x ticks
      g.append("g").selectAll("text").data(X_TICK_VALUES).join("text")
        .attr("x", (d) => x(d)).attr("y", y1 + 16.5)
        .attr("text-anchor", "middle").attr("dominant-baseline", "central")
        .attr("font-size", 18.5).text((d, i) => X_TICK_LABELS[i]);

      g.append("text").attr("x", (x0 + x1) / 2).attr("y", y1 + 36.5)
        .attr("text-anchor", "middle").attr("dominant-baseline", "central")
        .attr("font-size", 18.5).text("Time (Month)");

      // y title
      const yc = (y0 + y1) / 2;
      g.append("text").attr("x", p.yTitleX).attr("y", yc)
        .attr("transform", `rotate(-90, ${p.yTitleX}, ${yc})`)
        .attr("text-anchor", "middle").attr("dominant-baseline", "central")
        .attr("font-size", 12).text(p.yTitle);

      // legend
      p.legend.cols.forEach((col) => {
        col.keys.forEach((k, r) => {
          const ry = p.legend.rows[r];
          const t = g.append("text").attr("x", col.x).attr("y", ry)
            .attr("dominant-baseline", "central").attr("font-size", 12.4)
            .attr("fill", "#1a1a1a")
            .text(`${p.name} : ${SERIES_KEYS[k]}`);
          const len = t.node().getComputedTextLength();
          g.append("line").attr("x1", col.x + len + 10).attr("x2", col.end)
            .attr("y1", ry + 0.5).attr("y2", ry + 0.5)
            .attr("stroke", SERIES_COLORS[k]).attr("stroke-width", 1.3);
        });
      });
    });
  }, []);

  return (
    <div style={{ position: "absolute", left: 0, top: 0, width: W, height: H, background: "#fff" }}>
      <svg ref={ref} width={W} height={H} style={{ display: "block" }} />
    </div>
  );
}
